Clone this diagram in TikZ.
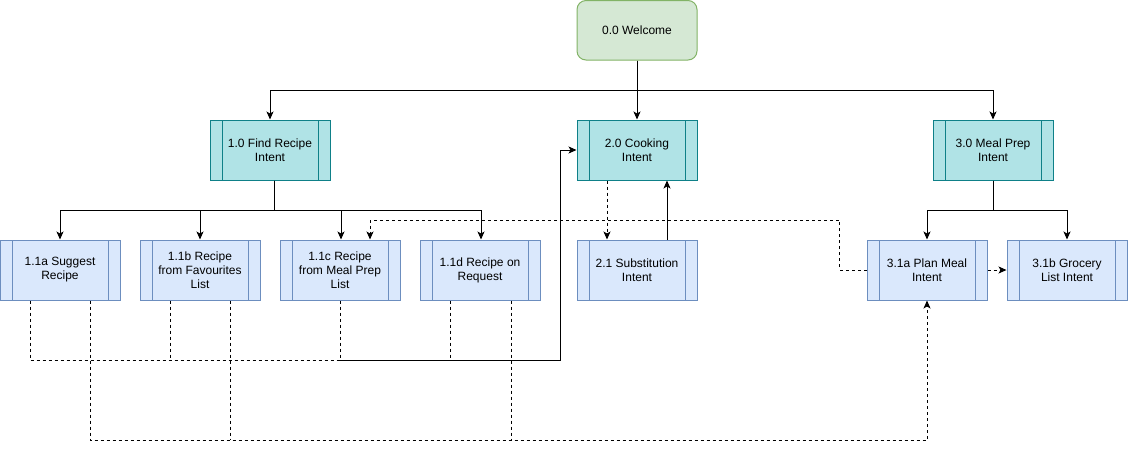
\documentclass[tikz,border=0pt]{standalone}
\usepackage{fontspec}
\setmainfont{Liberation Sans}
\usetikzlibrary{arrows.meta}
\definecolor{grnF}{HTML}{D5E8D4}
\definecolor{grnD}{HTML}{82B366}
\definecolor{tealF}{HTML}{B0E3E6}
\definecolor{tealD}{HTML}{0E8088}
\definecolor{bluF}{HTML}{DAE8FC}
\definecolor{bluD}{HTML}{6C8EBF}
\tikzset{
  proc/.style n args={2}{draw=#1, fill=#2, line width=1pt, minimum width=120pt, minimum height=60pt,
    inner sep=0pt, align=center, font=\fontsize{12pt}{14pt}\selectfont,
    path picture={\draw[#1, line width=1pt]
      ([xshift=12pt]path picture bounding box.north west) -- ([xshift=12pt]path picture bounding box.south west)
      ([xshift=-12pt]path picture bounding box.north east) -- ([xshift=-12pt]path picture bounding box.south east);}},
  tealbox/.style={proc={tealD}{tealF}},
  bluebox/.style={proc={bluD}{bluF}},
  startbox/.style={draw=grnD, fill=grnF, line width=1pt, rounded corners=9pt, minimum width=120pt,
    minimum height=59.5pt, inner sep=0pt, align=center, font=\fontsize{12pt}{14pt}\selectfont},
  arr/.style={line width=1pt, -{Stealth[length=8pt,width=7pt,inset=2pt]}},
  ln/.style={line width=1pt},
  dsh/.style={dash pattern=on 3pt off 3pt},
}
\begin{document}
\begin{tikzpicture}[x=1pt,y=-1pt]
\useasboundingbox (0,0) rectangle (1129,451);
% nodes
\node[startbox] (wel) at (637,30.25) {0.0 Welcome};
\node[tealbox] (fr) at (270,150) {1.0 Find Recipe\\Intent};
\node[tealbox] (co) at (637,150) {2.0 Cooking\\Intent};
\node[tealbox] (mp) at (993,150) {3.0 Meal Prep\\Intent};
\node[bluebox] (a) at (60,270) {1.1a Suggest\\Recipe};
\node[bluebox] (b) at (200,270) {1.1b Recipe\\from Favourites\\List};
\node[bluebox] (c) at (340,270) {1.1c Recipe\\from Meal Prep\\List};
\node[bluebox] (d) at (480,270) {1.1d Recipe on\\Request};
\node[bluebox] (su) at (637,270) {2.1 Substitution\\Intent};
\node[bluebox] (pa) at (927,270) {3.1a Plan Meal\\Intent};
\node[bluebox] (pb) at (1067,270) {3.1b Grocery\\List Intent};
% coordinates
\coordinate (k) at (370,220);
\coordinate (hA) at (30,360);
\coordinate (hB) at (170,360);
\coordinate (hD) at (450,360);
\coordinate (jc) at (340,360);
\coordinate (jr) at (560,360);
\coordinate (lA) at (90,440);
\coordinate (lB) at (230,440);
\coordinate (lD) at (511,440);
% welcome to level 1
\draw[arr] (wel.south) -- ++(0,30) -| (fr.north);
\draw[arr] (wel.south) -- (co.north);
\draw[arr] (wel.south) -- ++(0,30) -| (mp.north);
% 1.0 to children
\draw[arr] ([xshift=4pt]fr.south) -- ++(0,30) -| (a.north);
\draw[arr] ([xshift=4pt]fr.south) -- ++(0,30) -| (b.north);
\draw[arr] ([xshift=4pt]fr.south) -- ++(0,30) -| ([xshift=1pt]c.north);
\draw[arr] ([xshift=4pt]fr.south) -- ++(0,30) -| ([xshift=1pt]d.north);
% 3.0 to children
\draw[arr] (mp.south) -- ++(0,30) -| (pa.north);
\draw[arr] (mp.south) -- ++(0,30) -| (pb.north);
% 2.0 <-> 2.1
\draw[arr,dsh] ([xshift=-30pt]co.south) -- ([xshift=-30pt]su.north);
\draw[arr] ([xshift=30pt]su.north) -- ([xshift=30pt]co.south);
% 3.1a -> 3.1b
\draw[arr,dsh] (pa.east) -- (pb.west);
% 3.1a -> 1.1c
\draw[arr,dsh] (pa.west) -- ++(-27,0) |- (k) -- ([xshift=30pt]c.north);
% to 2.0 via y=360
\draw[ln,dsh] ([xshift=-30pt]a.south) -- (hA) -- (jc);
\draw[ln,dsh] ([xshift=-30pt]b.south) -- (hB);
\draw[ln,dsh] (c.south) -- (jc);
\draw[ln,dsh] ([xshift=-30pt]d.south) -- (hD);
\draw[arr] (jc) -- (jr) |- (co.west);
% to 3.1a via y=440
\draw[arr,dsh] ([xshift=30pt]a.south) -- (lA) -| (pa.south);
\draw[ln,dsh] ([xshift=30pt]b.south) -- (lB);
\draw[ln,dsh] ([xshift=31pt]d.south) -- (lD);
\end{tikzpicture}
\end{document}
